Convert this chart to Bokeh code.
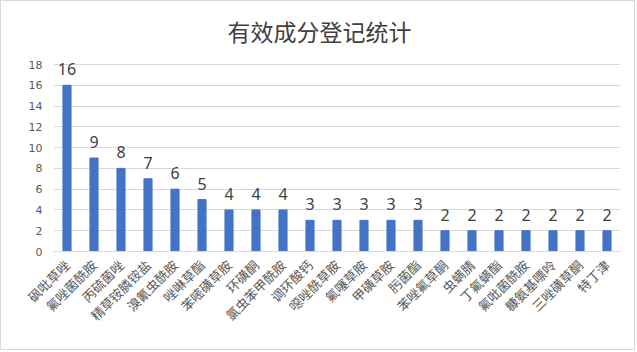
import math
from bokeh.plotting import figure
from bokeh.models import ColumnDataSource, LabelSet, FactorRange, Range1d, Label
from bokeh.core.properties import value
from bokeh.embed import file_html
from bokeh.resources import INLINE

categories = ["砜吡草唑", "氟唑菌酰胺", "丙硫菌唑", "精草铵膦铵盐", "溴氰虫酰胺", "唑啉草酯",
              "苯嘧磺草胺", "环磺酮", "氯虫苯甲酰胺", "调环酸钙", "噁唑酰草胺", "氟噻草胺",
              "甲磺草胺", "肟菌酯", "苯唑氟草酮", "虫螨腈", "丁氟螨酯", "氟吡菌酰胺",
              "糠氨基嘌呤", "三唑磺草酮", "特丁津"]
counts = [16, 9, 8, 7, 6, 5, 4, 4, 4, 3, 3, 3, 3, 3, 2, 2, 2, 2, 2, 2, 2]
y_ticks = [0, 2, 4, 6, 8, 10, 12, 14, 16, 18]
title_text = "有效成分登记统计"

src = ColumnDataSource(dict(cat=categories, val=counts, lab=[str(v) for v in counts]))

# frame extends to the top of the canvas so the title can sit inside it
frame_h = 250.0
axis_h = 187.0
p = figure(width=635, height=350, x_range=FactorRange(factors=categories),
           y_range=Range1d(0, y_ticks[-1] * frame_h / axis_h),
           output_backend="svg", toolbar_location=None,
           min_border_left=52, min_border_right=16,
           min_border_top=0, min_border_bottom=100)
p.styles = {"border": "1px solid #d9d9d9"}
p.outline_line_color = None

title = Label(x=266, y=221, x_units="screen", y_units="screen", text=title_text,
              text_align="center", text_baseline="middle", text_font="Noto Sans CJK SC",
              text_font_size="23px", text_color="#404040")
p.add_layout(title)

p.vbar(x="cat", top="val", width=0.3, source=src, color="#4472C4")

labels = LabelSet(x="cat", y="val", text="lab", source=src, text_align="center",
                  text_baseline="bottom", y_offset=10, text_font_size="16px",
                  text_color="#404040", text_font=value("Noto Sans"))
p.add_layout(labels)

p.yaxis.ticker = y_ticks
p.yaxis.axis_line_color = None
p.yaxis.major_tick_line_color = None
p.yaxis.minor_tick_line_color = None
p.yaxis.major_label_text_font_size = "11px"
p.yaxis.major_label_text_color = "#595959"
p.yaxis.major_label_text_font = "DejaVu Sans"

p.xaxis.axis_line_color = "#d9d9d9"
p.xaxis.major_tick_line_color = None
p.xaxis.minor_tick_line_color = None
p.xaxis.major_label_orientation = math.pi / 4
p.xaxis.major_label_text_font = "Noto Sans CJK SC"
p.xaxis.major_label_text_font_size = "13px"
p.xaxis.major_label_text_color = "#595959"
p.xgrid.grid_line_color = None
p.ygrid.grid_line_color = "#d9d9d9"
p.ygrid.ticker = y_ticks

open("out.html", "w").write(file_html(p, INLINE))
